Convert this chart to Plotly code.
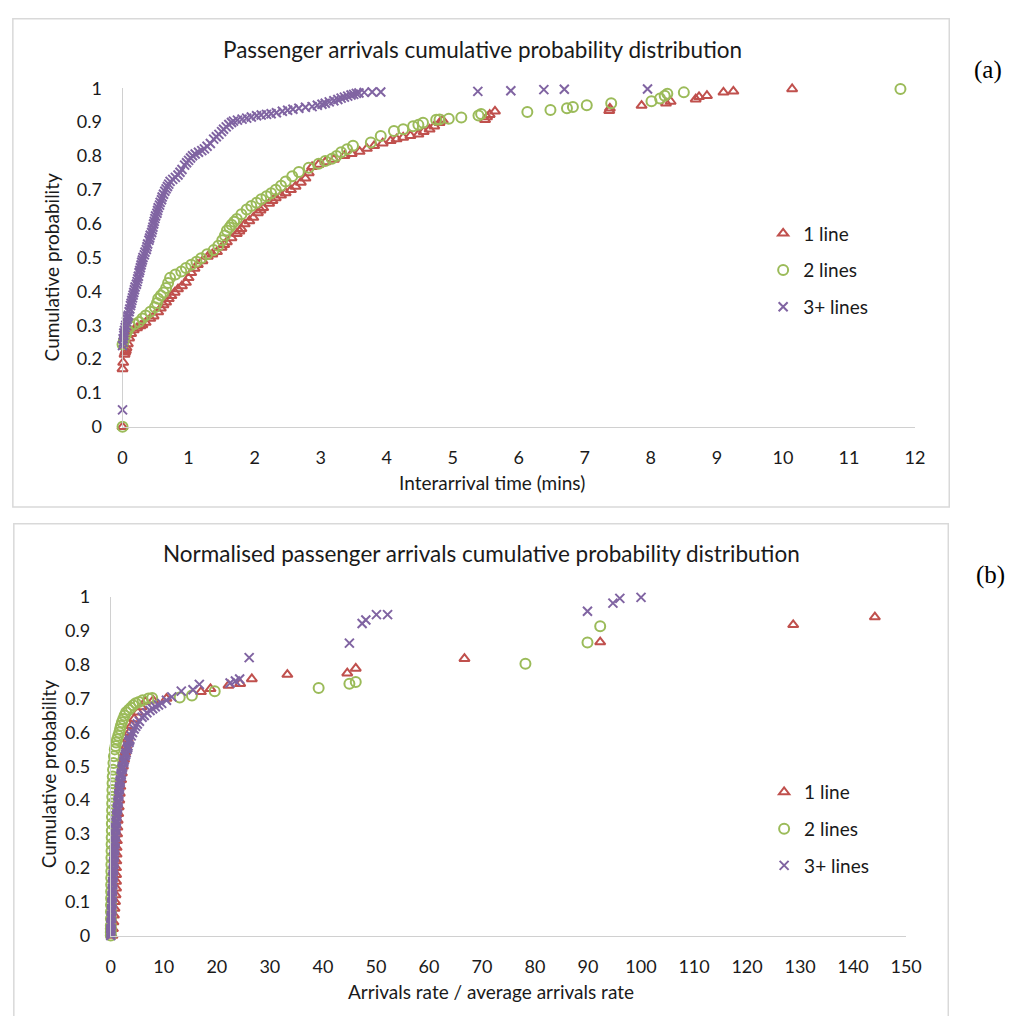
import plotly.graph_objects as go

W, H = 1025, 1016

# ---------------- data ----------------
series_names = ["1 line", "2 lines", "3+ lines"]

# (a) interarrival time (mins), cumulative probability
one_line_a = [
    (0, 0), (0, 0.171), (0.01, 0.19), (0.03, 0.214), (0.04, 0.22), (0.05, 0.225), (0.06, 0.233),
    (0.08, 0.245), (0.10, 0.262), (0.13, 0.275), (0.17, 0.286), (0.22, 0.292), (0.27, 0.298),
    (0.30, 0.301), (0.35, 0.308), (0.42, 0.32), (0.47, 0.327), (0.54, 0.339), (0.58, 0.35),
    (0.62, 0.36), (0.66, 0.368), (0.70, 0.378), (0.74, 0.387), (0.79, 0.397), (0.84, 0.407),
    (0.90, 0.416), (0.96, 0.426), (1.0, 0.44), (1.04, 0.455), (1.09, 0.468), (1.14, 0.479),
    (1.21, 0.49), (1.29, 0.503), (1.36, 0.51), (1.43, 0.517), (1.50, 0.53), (1.54, 0.538),
    (1.58, 0.546), (1.65, 0.558), (1.73, 0.570), (1.77, 0.578), (1.80, 0.585), (1.85, 0.599),
    (1.92, 0.608), (1.98, 0.618), (2.05, 0.632), (2.09, 0.64), (2.13, 0.647), (2.22, 0.66),
    (2.27, 0.668), (2.32, 0.676), (2.40, 0.684), (2.47, 0.691), (2.55, 0.70), (2.62, 0.710),
    (2.70, 0.722), (2.77, 0.734), (2.82, 0.75), (2.87, 0.768), (2.97, 0.775), (3.07, 0.782),
    (3.20, 0.79), (3.36, 0.801), (3.47, 0.807), (3.59, 0.813), (3.70, 0.822), (3.81, 0.830),
    (3.94, 0.838), (4.06, 0.845), (4.15, 0.85), (4.25, 0.855), (4.36, 0.86), (4.48, 0.864),
    (4.56, 0.872), (4.65, 0.879), (4.72, 0.888), (4.80, 0.898), (4.85, 0.905), (5.49, 0.907),
    (5.52, 0.915), (5.56, 0.922), (5.64, 0.932), (7.37, 0.934), (7.38, 0.941), (7.86, 0.949),
    (8.23, 0.956), (8.30, 0.961), (8.68, 0.968), (8.73, 0.975), (8.85, 0.978), (9.10, 0.988),
    (9.25, 0.991), (10.14, 0.998),
]
two_lines_a = [
    (0, 0), (0, 0.243), (0.02, 0.255), (0.05, 0.272), (0.08, 0.285), (0.12, 0.296), (0.18, 0.303),
    (0.25, 0.31), (0.30, 0.32), (0.35, 0.329), (0.42, 0.34), (0.49, 0.353), (0.52, 0.366),
    (0.54, 0.378), (0.58, 0.388), (0.62, 0.397), (0.66, 0.41), (0.69, 0.425), (0.72, 0.44),
    (0.80, 0.45), (0.89, 0.459), (0.96, 0.469), (1.04, 0.479), (1.12, 0.488), (1.19, 0.498),
    (1.28, 0.51), (1.38, 0.522), (1.45, 0.535), (1.51, 0.551), (1.55, 0.565), (1.58, 0.58),
    (1.62, 0.589), (1.65, 0.597), (1.69, 0.606), (1.73, 0.614), (1.80, 0.628), (1.88, 0.642),
    (1.95, 0.652), (2.03, 0.662), (2.10, 0.672), (2.18, 0.681), (2.25, 0.69), (2.32, 0.70),
    (2.40, 0.712), (2.47, 0.725), (2.57, 0.74), (2.67, 0.753), (2.82, 0.765), (2.97, 0.777),
    (3.07, 0.785), (3.17, 0.792), (3.24, 0.80), (3.31, 0.811), (3.40, 0.82), (3.49, 0.830),
    (3.76, 0.840), (3.91, 0.859), (4.11, 0.874), (4.25, 0.879), (4.40, 0.888), (4.48, 0.892),
    (4.55, 0.898), (4.75, 0.907), (4.80, 0.908), (4.94, 0.910), (5.13, 0.914), (5.39, 0.92),
    (5.43, 0.924), (6.13, 0.93), (6.48, 0.936), (6.73, 0.941), (6.82, 0.945), (7.03, 0.95),
    (7.40, 0.956), (8.01, 0.962), (8.14, 0.97), (8.21, 0.978), (8.25, 0.984), (8.50, 0.988),
    (11.78, 0.998),
]
three_plus_a = [
    (0, 0.05),
    (0, 0.24), (0.01, 0.25), (0.01, 0.26), (0.02, 0.27), (0.02, 0.277), (0.03, 0.285),
    (0.04, 0.293), (0.05, 0.30), (0.06, 0.31), (0.07, 0.318), (0.08, 0.325), (0.09, 0.33),
    (0.10, 0.34), (0.11, 0.348), (0.12, 0.358), (0.13, 0.365), (0.14, 0.373), (0.15, 0.381),
    (0.16, 0.389), (0.17, 0.397), (0.18, 0.405), (0.19, 0.413), (0.21, 0.421), (0.22, 0.429),
    (0.23, 0.437), (0.24, 0.445), (0.25, 0.455), (0.26, 0.462), (0.27, 0.47), (0.28, 0.478),
    (0.29, 0.486), (0.30, 0.493), (0.31, 0.50), (0.33, 0.508), (0.34, 0.516), (0.36, 0.524),
    (0.37, 0.532), (0.38, 0.54), (0.40, 0.551), (0.41, 0.558), (0.42, 0.566), (0.44, 0.574),
    (0.45, 0.582), (0.46, 0.59), (0.47, 0.599), (0.48, 0.607), (0.49, 0.615), (0.50, 0.623),
    (0.52, 0.631), (0.53, 0.639), (0.54, 0.647), (0.56, 0.655), (0.57, 0.663), (0.59, 0.671),
    (0.60, 0.679), (0.62, 0.687), (0.64, 0.696), (0.66, 0.703), (0.68, 0.71), (0.70, 0.717),
    (0.72, 0.725), (0.76, 0.731), (0.80, 0.737), (0.84, 0.744), (0.87, 0.752), (0.90, 0.76),
    (0.94, 0.773), (0.97, 0.78), (1.00, 0.787), (1.03, 0.794), (1.06, 0.801), (1.10, 0.806),
    (1.15, 0.811), (1.20, 0.816), (1.24, 0.821), (1.28, 0.829), (1.33, 0.837), (1.38, 0.850),
    (1.42, 0.857), (1.46, 0.864), (1.50, 0.872), (1.53, 0.879), (1.57, 0.886), (1.61, 0.893),
    (1.65, 0.899), (1.68, 0.903), (1.74, 0.906), (1.81, 0.909), (1.88, 0.912), (1.95, 0.915),
    (2.03, 0.919), (2.10, 0.921), (2.18, 0.923), (2.25, 0.925), (2.33, 0.928), (2.42, 0.932),
    (2.50, 0.935), (2.58, 0.938), (2.67, 0.941), (2.77, 0.944), (2.87, 0.946), (2.95, 0.950),
    (3.02, 0.953), (3.07, 0.956), (3.13, 0.96), (3.20, 0.963), (3.26, 0.967), (3.31, 0.971),
    (3.36, 0.974), (3.41, 0.977), (3.46, 0.98), (3.50, 0.982), (3.54, 0.985), (3.58, 0.986),
    (3.66, 0.988), (3.78, 0.989), (3.91, 0.989), (5.38, 0.991), (5.88, 0.993), (6.38, 0.996),
    (6.69, 0.997), (7.95, 0.998),
]

# (b) arrivals rate / average arrivals rate, cumulative probability
one_line_b = [
    (0.3, 0), (0.4, 0.02), (0.5, 0.04), (0.6, 0.06), (0.7, 0.08), (0.8, 0.1), (0.9, 0.12),
    (1.0, 0.14), (1.0, 0.16), (1.0, 0.18), (1.0, 0.2), (1.05, 0.22), (1.1, 0.24), (1.1, 0.26),
    (1.15, 0.28), (1.2, 0.3), (1.25, 0.32), (1.3, 0.34), (1.4, 0.36), (1.5, 0.38), (1.6, 0.4),
    (1.7, 0.42), (1.8, 0.44), (1.95, 0.46), (2.1, 0.48), (2.3, 0.5), (2.5, 0.52), (2.7, 0.54),
    (2.9, 0.56), (3.2, 0.58), (3.5, 0.6), (3.9, 0.62), (4.4, 0.64), (5.1, 0.66), (5.8, 0.675),
    (6.5, 0.691), (8.0, 0.695), (10.5, 0.70), (17.0, 0.72), (18.8, 0.729), (22.2, 0.739),
    (24.4, 0.744), (26.6, 0.758), (33.3, 0.771), (44.6, 0.775), (46.2, 0.789), (66.7, 0.818),
    (92.3, 0.867), (128.7, 0.918), (144.1, 0.941),
]
two_lines_b = [
    (0, 0), (0, 0.01), (0, 0.02), (0.01, 0.03), (0.02, 0.05), (0.03, 0.07), (0.04, 0.09),
    (0.05, 0.11), (0.06, 0.13), (0.07, 0.15), (0.08, 0.17), (0.1, 0.19), (0.11, 0.21),
    (0.12, 0.23), (0.14, 0.25), (0.15, 0.27), (0.17, 0.29), (0.19, 0.31), (0.2, 0.33),
    (0.22, 0.35), (0.24, 0.37), (0.26, 0.39), (0.28, 0.41), (0.3, 0.43), (0.33, 0.45),
    (0.37, 0.47), (0.42, 0.49), (0.5, 0.51), (0.6, 0.53), (0.75, 0.55), (0.9, 0.56), (1.0, 0.57),
    (1.2, 0.58), (1.4, 0.59), (1.6, 0.6), (1.75, 0.61), (1.9, 0.62), (2.1, 0.63), (2.35, 0.64),
    (2.6, 0.65), (2.9, 0.66), (3.4, 0.667), (3.8, 0.673), (4.2, 0.68), (4.7, 0.686), (5.3, 0.69),
    (6.0, 0.695), (7.1, 0.70), (7.8, 0.702), (13.0, 0.703), (15.3, 0.709), (19.6, 0.722),
    (39.2, 0.731), (45.0, 0.744), (46.2, 0.749), (78.2, 0.803), (89.9, 0.866), (92.3, 0.914),
]
three_plus_b = [
    (0, 0), (0, 0.005), (0, 0.01), (0.02, 0.015), (0.02, 0.02), (0.05, 0.03), (0.06, 0.035),
    (0.08, 0.04), (0.1, 0.05), (0.11, 0.055), (0.12, 0.06), (0.15, 0.07), (0.16, 0.075),
    (0.18, 0.08), (0.2, 0.09), (0.21, 0.095), (0.22, 0.1), (0.25, 0.11), (0.26, 0.115),
    (0.27, 0.12), (0.3, 0.13), (0.31, 0.135), (0.32, 0.14), (0.35, 0.15), (0.36, 0.155),
    (0.38, 0.16), (0.4, 0.17), (0.42, 0.175), (0.45, 0.18), (0.5, 0.19), (0.51, 0.195),
    (0.52, 0.2), (0.55, 0.21), (0.56, 0.215), (0.58, 0.22), (0.6, 0.23), (0.62, 0.235),
    (0.65, 0.24), (0.68, 0.25), (0.7, 0.255), (0.72, 0.26), (0.76, 0.27), (0.78, 0.275),
    (0.8, 0.28), (0.83, 0.29), (0.85, 0.295), (0.86, 0.3), (0.9, 0.31), (0.92, 0.315),
    (0.95, 0.32), (1.0, 0.33), (1.02, 0.335), (1.05, 0.34), (1.1, 0.35), (1.12, 0.355),
    (1.15, 0.36), (1.2, 0.37), (1.25, 0.375), (1.3, 0.38), (1.35, 0.39), (1.37, 0.395),
    (1.4, 0.4), (1.46, 0.41), (1.49, 0.415), (1.52, 0.42), (1.58, 0.43), (1.62, 0.435),
    (1.65, 0.44), (1.72, 0.45), (1.76, 0.455), (1.8, 0.46), (1.9, 0.47), (1.95, 0.475),
    (2.0, 0.48), (2.1, 0.49), (2.17, 0.495), (2.25, 0.5), (2.4, 0.51), (2.47, 0.515),
    (2.55, 0.52), (2.7, 0.53), (2.8, 0.535), (2.9, 0.54), (3.1, 0.55), (3.18, 0.555),
    (3.25, 0.56), (3.4, 0.57), (3.5, 0.575), (3.6, 0.58), (3.85, 0.59), (4.1, 0.6),
    (4.4, 0.61), (4.7, 0.618), (5.0, 0.625), (5.4, 0.633), (5.9, 0.645), (6.3, 0.65),
    (6.8, 0.658), (7.4, 0.665), (7.9, 0.67), (8.4, 0.676), (9.0, 0.681), (9.6, 0.686),
    (10.5, 0.695), (11.5, 0.705), (13.3, 0.722), (15.5, 0.726), (16.7, 0.742), (22.5, 0.746),
    (23.5, 0.752), (24.3, 0.758), (26.1, 0.821), (45.0, 0.864), (47.4, 0.922), (48.1, 0.932),
    (50.1, 0.948), (52.2, 0.948), (89.9, 0.958), (94.7, 0.982), (96.0, 0.996), (100.0, 0.999),
]

x_ticks_a = list(range(0, 13))
x_ticks_b = list(range(0, 151, 10))
y_ticks = [0, 0.1, 0.2, 0.3, 0.4, 0.5, 0.6, 0.7, 0.8, 0.9, 1]

# ---------------- styling ----------------
colors = ["#C0504D", "#9BBB59", "#8064A2"]
symbols = ["triangle-up-open", "circle-open", "x-thin-open"]
sizes = [9, 10, 9]
FONT = "Lato"
TXT = "#1a1a1a"
AXC = "#D0D0D0"


def px_x(p):
    return p / W


def px_y(p):
    return 1 - p / H


fig = go.Figure()

panels = [
    ("a", [one_line_a, two_lines_a, three_plus_a], "x", "y", "legend"),
    ("b", [one_line_b, two_lines_b, three_plus_b], "x2", "y2", "legend2"),
]
for tag, data, xa, ya, lg in panels:
    for i, pts in enumerate(data):
        fig.add_trace(go.Scatter(
            x=[p[0] for p in pts], y=[p[1] for p in pts],
            mode="markers", name=series_names[i],
            marker=dict(symbol=symbols[i], size=sizes[i], color=colors[i],
                        line=dict(color=colors[i], width=2)),
            xaxis=xa, yaxis=ya, legend=lg, legendgroup=f"{tag}{i}",
            cliponaxis=False, showlegend=True,
        ))

axis_common = dict(showgrid=False, zeroline=False, showline=True, linecolor=AXC, linewidth=1,
                   ticks="outside", tickcolor="rgba(0,0,0,0)",
                   tickfont=dict(family=FONT, size=18, color=TXT), fixedrange=True)

legend_common = dict(xanchor="left", yanchor="top", font=dict(family=FONT, size=19, color=TXT),
                     bgcolor="rgba(0,0,0,0)", tracegroupgap=9, itemwidth=30)

fig.update_layout(
    width=W, height=H, margin=dict(l=0, r=0, t=0, b=0),
    paper_bgcolor="white", plot_bgcolor="white",
    font=dict(family=FONT, color=TXT),
    xaxis=dict(domain=[px_x(120), px_x(929)], range=[0, 12], tickvals=x_ticks_a,
               anchor="y", ticklen=15, **axis_common),
    yaxis=dict(domain=[px_y(424), px_y(78)], range=[0, 1], tickvals=y_ticks,
               anchor="x", ticklen=16, **axis_common),
    xaxis2=dict(domain=[px_x(108), px_x(920)], range=[0, 150], tickvals=x_ticks_b,
                anchor="y2", ticklen=15, **axis_common),
    yaxis2=dict(domain=[px_y(944), px_y(598)], range=[0, 1], tickvals=y_ticks,
                anchor="x2", ticklen=16, **axis_common),
    legend=dict(x=px_x(774), y=px_y(207), **legend_common),
    legend2=dict(x=px_x(775), y=px_y(778), **legend_common),
    shapes=[
        dict(type="rect", xref="paper", yref="paper", x0=px_x(8), x1=px_x(964),
             y0=px_y(506), y1=px_y(7), line=dict(color="#D9D9D9", width=1.5)),
        dict(type="rect", xref="paper", yref="paper", x0=px_x(9), x1=px_x(963),
             y0=px_y(1040), y1=px_y(523), line=dict(color="#D9D9D9", width=1.5)),
    ],
    annotations=[
        dict(text="Passenger arrivals cumulative probability distribution", x=px_x(487), y=px_y(38),
             xref="paper", yref="paper", showarrow=False, xanchor="center", yanchor="middle",
             font=dict(family=FONT, size=22.5, color=TXT)),
        dict(text="Normalised passenger arrivals cumulative probability distribution", x=px_x(486),
             y=px_y(553), xref="paper", yref="paper", showarrow=False, xanchor="center",
             yanchor="middle", font=dict(family=FONT, size=22.5, color=TXT)),
        dict(text="Interarrival time (mins)", x=px_x(497), y=px_y(481), xref="paper", yref="paper",
             showarrow=False, xanchor="center", yanchor="middle",
             font=dict(family=FONT, size=19, color=TXT)),
        dict(text="Arrivals rate / average arrivals rate", x=px_x(496), y=px_y(1001), xref="paper",
             yref="paper", showarrow=False, xanchor="center", yanchor="middle",
             font=dict(family=FONT, size=19, color=TXT)),
        dict(text="Cumulative probability", x=px_x(47), y=px_y(261), xref="paper", yref="paper",
             showarrow=False, textangle=-90, xanchor="center", yanchor="middle",
             font=dict(family=FONT, size=19, color=TXT)),
        dict(text="Cumulative probability", x=px_x(44), y=px_y(779), xref="paper", yref="paper",
             showarrow=False, textangle=-90, xanchor="center", yanchor="middle",
             font=dict(family=FONT, size=19, color=TXT)),
        dict(text="(a)", x=px_x(1004), y=px_y(59), xref="paper", yref="paper", showarrow=False,
             xanchor="center", yanchor="middle",
             font=dict(family="Liberation Serif", size=25, color="black")),
        dict(text="(b)", x=px_x(1006), y=px_y(575), xref="paper", yref="paper", showarrow=False,
             xanchor="center", yanchor="middle",
             font=dict(family="Liberation Serif", size=25, color="black")),
    ],
)

fig.write_html(
    "out.html",
    config={"displayModeBar": False, "staticPlot": False},
    post_script="document.body.style.margin='0';document.body.style.overflow='hidden';",
)
